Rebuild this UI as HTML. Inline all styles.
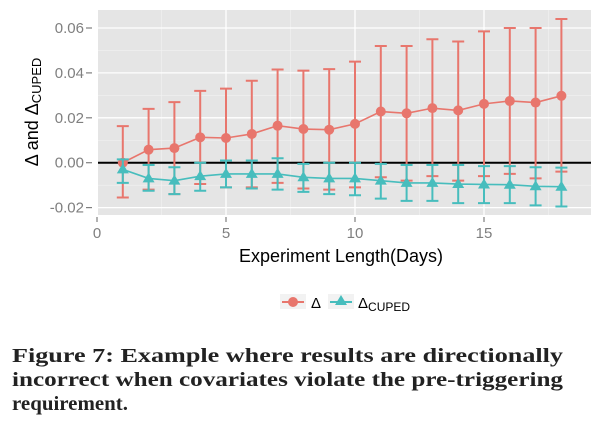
<!DOCTYPE html>
<html><head><meta charset="utf-8"><style>
body{margin:0;background:#fff;width:600px;height:431px;overflow:hidden}
svg{display:block}
</style></head><body>
<svg id="chart" width="600" height="431" xmlns="http://www.w3.org/2000/svg" font-family="Liberation Sans, sans-serif">
<rect x="98" y="10" width="493" height="205" fill="#e5e5e5"/>
<g id="grid"></g>
<g id="axes"></g>
<g id="series"></g>
<text x="341" y="262" font-size="18" text-anchor="middle" fill="#000">Experiment Length(Days)</text>
<text transform="translate(38,112) rotate(-90)" font-size="18" text-anchor="middle" fill="#000">Δ and Δ<tspan font-size="13" dy="3">CUPED</tspan></text>
<g>
<rect x="280" y="294" width="26" height="15" fill="#f2f2f2"/>
<line x1="282" y1="302" x2="304" y2="302" stroke="#e8766d" stroke-width="2"/>
<circle cx="293" cy="302" r="5" fill="#e8766d"/>
<text x="311" y="308" font-size="15">Δ</text>
<rect x="328" y="294" width="26" height="15" fill="#f2f2f2"/>
<line x1="330" y1="302" x2="352" y2="302" stroke="#47bdbd" stroke-width="2"/>
<polygon points="341,295 347,305 335,305" fill="#47bdbd"/>
<text x="358" y="308" font-size="15">Δ<tspan font-size="12" dy="3">CUPED</tspan></text>
</g>
<g font-family="Liberation Serif, serif" font-weight="bold" font-size="20" fill="#222">
<text x="12" y="362" textLength="551" lengthAdjust="spacingAndGlyphs">Figure 7:  Example where results are directionally</text>
<text x="12" y="386" textLength="551" lengthAdjust="spacingAndGlyphs">incorrect when covariates violate the pre-triggering</text>
<text x="12" y="410" textLength="116" lengthAdjust="spacingAndGlyphs">requirement.</text>
</g>
</svg>
<script>
const days=[1,2,3,4,5,6,7,8,9,10,11,12,13,14,15,16,17,18];
const deltaMean=[0.000,0.0058,0.0065,0.0113,0.011,0.0128,0.0165,0.015,0.0147,0.0173,0.0228,0.022,0.0243,0.0233,0.0262,0.0275,0.0268,0.0298];
const deltaLow=[-0.0155,-0.012,-0.014,-0.0095,-0.011,-0.011,-0.009,-0.0115,-0.012,-0.011,-0.0065,-0.008,-0.006,-0.008,-0.006,-0.005,-0.007,-0.004];
const deltaHigh=[0.0163,0.024,0.027,0.032,0.033,0.0365,0.0415,0.041,0.0417,0.045,0.052,0.052,0.055,0.054,0.0585,0.060,0.060,0.064];
const cupedMean=[-0.003,-0.007,-0.008,-0.006,-0.005,-0.005,-0.005,-0.0065,-0.007,-0.007,-0.008,-0.009,-0.009,-0.0095,-0.0097,-0.0098,-0.0105,-0.0107];
const cupedLow=[-0.009,-0.0125,-0.014,-0.0125,-0.011,-0.0115,-0.012,-0.013,-0.014,-0.0145,-0.016,-0.017,-0.017,-0.018,-0.018,-0.018,-0.019,-0.0195];
const cupedHigh=[0.0015,-0.001,-0.002,0,0.001,0.001,0.002,-0.0005,0,0,-0.0005,-0.001,-0.001,-0.001,-0.0015,-0.0015,-0.002,-0.0022];
const xTicks=[0,5,10,15];
const yTicks=[-0.02,0,0.02,0.04,0.06];
const yTickLabels=["-0.02","0.00","0.02","0.04","0.06"];

const NS="http://www.w3.org/2000/svg";
const X=v=>97+v*25.8;
const Y=v=>162.7-v*2245;
function mk(parent,tag,attrs){const e=document.createElementNS(NS,tag);for(const k in attrs)e.setAttribute(k,attrs[k]);parent.appendChild(e);return e;}
const grid=document.getElementById('grid'),axes=document.getElementById('axes'),ser=document.getElementById('series');
for(let i=0;i<xTicks.length;i++){const m=xTicks[i]+2.5;if(X(m)<591){const l=mk(grid,'line',{x1:X(m),x2:X(m),y1:10,y2:215,stroke:'#f2f2f2','stroke-width':0.6});}}
for(let i=0;i<yTicks.length-1;i++){const m=(yTicks[i]+yTicks[i+1])/2;const l=mk(grid,'line',{x1:98,x2:591,y1:Y(m),y2:Y(m),stroke:'#f2f2f2','stroke-width':0.6});}
xTicks.forEach(t=>{if(X(t)>=98){const l=mk(grid,'line',{x1:X(t),x2:X(t),y1:10,y2:215,stroke:'#fff','stroke-width':1.3});}
 const tk=mk(axes,'line',{x1:X(t),x2:X(t),y1:217,y2:222,stroke:'#7f7f7f','stroke-width':1.2});
 const tx=mk(axes,'text',{x:X(t),y:238,'font-size':15,fill:'#7f7f7f','text-anchor':'middle'});tx.textContent=t;});
yTicks.forEach((t,i)=>{const l=mk(grid,'line',{x1:98,x2:591,y1:Y(t),y2:Y(t),stroke:'#fff','stroke-width':1.3});
 const tk=mk(axes,'line',{x1:86,x2:92,y1:Y(t),y2:Y(t),stroke:'#7f7f7f','stroke-width':1.2});
 const tx=mk(axes,'text',{x:84,y:Y(t)+5,'font-size':15,fill:'#7f7f7f','text-anchor':'end'});tx.textContent=yTickLabels[i];});
const zl=mk(ser,'line',{x1:98,x2:591,y1:Y(0),y2:Y(0),stroke:'#000','stroke-width':2});

function series(mean,lo,hi,color,shape,name){
 const g=mk(ser,'g',{});
 days.forEach((d,i)=>{const x=X(d);
  const e=mk(g,'path',{d:`M${x-6},${Y(hi[i])}H${x+6}M${x},${Y(hi[i])}V${Y(lo[i])}M${x-6},${Y(lo[i])}H${x+6}`,stroke:color,'stroke-width':2,fill:'none'});
  });
 const p=mk(g,'polyline',{points:days.map((d,i)=>X(d)+','+Y(mean[i])).join(' '),stroke:color,'stroke-width':1.6,fill:'none'});
 
 days.forEach((d,i)=>{const x=X(d),y=Y(mean[i]);let m;
  if(shape==='c')m=mk(g,'circle',{cx:x,cy:y,r:5,fill:color});
  else m=mk(g,'polygon',{points:`${x},${y-6} ${x+6},${y+4} ${x-6},${y+4}`,fill:color});
  });
}
series(deltaMean,deltaLow,deltaHigh,'#e8766d','c','delta');
series(cupedMean,cupedLow,cupedHigh,'#47bdbd','t','cuped');
</script>
</body></html>
